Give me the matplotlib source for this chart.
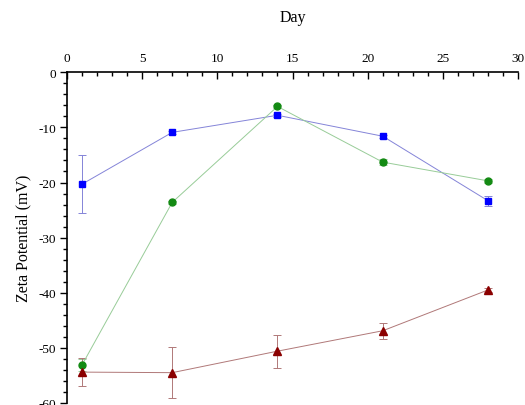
import matplotlib
matplotlib.use("Agg")
import matplotlib.pyplot as plt
from matplotlib.ticker import MultipleLocator

plt.rcParams['font.family'] = ['Liberation Serif', 'DejaVu Serif']
plt.rcParams['axes.unicode_minus'] = False

days = [1, 7, 14, 21, 28]

# blue squares
sq_y = [-20.3, -10.9, -7.8, -11.6, -23.3]
sq_err = [5.3, 0.3, 0.3, 0.3, 0.9]
# green circles
ci_y = [-53.1, -23.6, -6.2, -16.3, -19.7]
ci_err = [1.1, 0.3, 0.3, 0.6, 0.3]
# red triangles
tr_y = [-54.4, -54.5, -50.6, -46.9, -39.5]
tr_err = [2.5, 4.6, 3.0, 1.5, 0.3]

fig = plt.figure(figsize=(5.25, 4.06), dpi=100)
ax = fig.add_axes([0.1276, 0.005, 0.8591, 0.8145])

ax.errorbar(days, sq_y, yerr=sq_err, color="#8484d8", lw=0.7, marker="s",
            ms=4.6, mfc="#0000ff", mec="#0000ff", capsize=3, elinewidth=0.7,
            ecolor="#8484d8", capthick=0.7)
ax.errorbar(days, ci_y, yerr=ci_err, color="#98cc98", lw=0.7, marker="o",
            ms=5, mfc="#138a13", mec="#138a13", capsize=3, elinewidth=0.7,
            ecolor="#98cc98", capthick=0.7)
ax.errorbar(days, tr_y, yerr=tr_err, color="#b07878", lw=0.7, marker="^",
            ms=5.8, mfc="#8b0000", mec="#8b0000", capsize=3, elinewidth=0.7,
            ecolor="#b07878", capthick=0.7)

ax.set_xlim(0, 30)
ax.set_ylim(-60, 0)
ax.xaxis.set_major_locator(MultipleLocator(5))
ax.xaxis.set_minor_locator(MultipleLocator(1))
ax.yaxis.set_major_locator(MultipleLocator(10))
ax.yaxis.set_minor_locator(MultipleLocator(2))

ax.xaxis.tick_top()
ax.xaxis.set_label_position("top")
ax.spines["right"].set_visible(False)
ax.spines["bottom"].set_visible(False)
ax.spines["top"].set_linewidth(1.2)
ax.spines["left"].set_linewidth(1.2)

ax.tick_params(axis="x", which="major", direction="in", length=5, width=1,
               labelsize=9.5, pad=6)
ax.tick_params(axis="x", which="minor", direction="in", length=3, width=1)
ax.tick_params(axis="y", which="major", direction="out", length=5, width=1,
               labelsize=9.5, pad=3)
ax.tick_params(axis="y", which="minor", direction="out", length=3, width=1)

ax.set_xlabel("Day", fontsize=11.5, labelpad=22)
ax.set_ylabel("Zeta Potential (mV)", fontsize=11.5, labelpad=5)

fig.savefig("out.png", dpi=100)
